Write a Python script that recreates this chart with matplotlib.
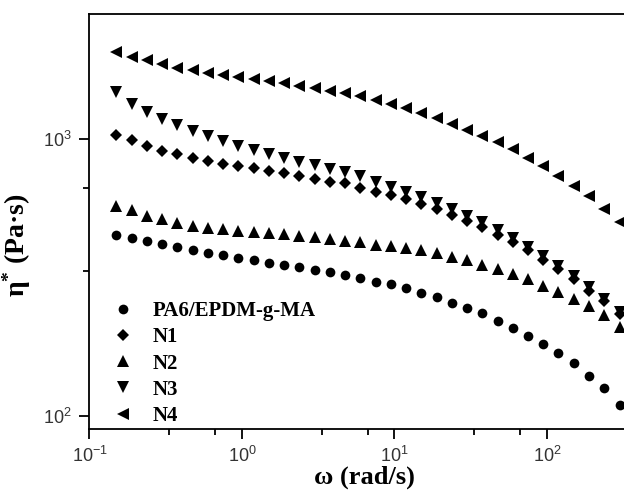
import matplotlib
matplotlib.use('Agg')
import matplotlib.pyplot as plt
from matplotlib.ticker import FixedLocator, LogLocator, NullFormatter

plt.rcParams['font.family'] = ['Liberation Sans', 'DejaVu Sans']
plt.rcParams['mathtext.fontset'] = 'custom'
plt.rcParams['mathtext.rm'] = 'Liberation Serif:bold'
plt.rcParams['mathtext.bf'] = 'Liberation Serif:bold'
plt.rcParams['mathtext.it'] = 'Liberation Serif:bold'

# angular frequency (rad/s), same sweep for every sample
omega = [0.15, 0.189, 0.238, 0.299, 0.377, 0.474, 0.597, 0.752, 0.946, 1.19,
         1.5, 1.89, 2.38, 2.99, 3.77, 4.74, 5.97, 7.52, 9.46, 11.9,
         15.0, 18.9, 23.8, 29.9, 37.7, 47.4, 59.7, 75.2, 94.6, 119,
         150, 189, 238, 299]

# complex viscosity (Pa.s)
pa6 = [452, 438, 428, 418, 407, 396, 387, 380, 372, 365,
       358, 352, 345, 337, 330, 322, 315, 306, 299, 290,
       279, 269, 257, 246, 235, 221, 208, 195, 182, 169,
       155, 140, 126, 110]
n1 = [1036, 989, 941, 903, 879, 855, 832, 814, 798, 783,
      766, 751, 735, 719, 701, 692, 667, 644, 626, 606,
      581, 558, 531, 507, 480, 452, 424, 396, 367, 340,
      313, 284, 260, 233]
n2 = [574, 553, 528, 514, 497, 486, 478, 472, 467, 462,
      458, 453, 448, 443, 437, 430, 424, 415, 410, 403,
      396, 387, 375, 366, 352, 340, 326, 313, 296, 280,
      265, 249, 231, 210]
n3 = [1470, 1339, 1246, 1180, 1119, 1068, 1022, 981, 944, 911,
      881, 852, 827, 802, 781, 760, 735, 699, 673, 644,
      618, 586, 558, 528, 500, 469, 438, 407, 377, 348,
      320, 292, 265, 238]
n4 = [2051, 1977, 1920, 1857, 1806, 1767, 1734, 1702, 1673, 1641,
      1614, 1588, 1557, 1528, 1494, 1462, 1422, 1376, 1339, 1291,
      1239, 1189, 1135, 1080, 1028, 973, 916, 855, 798, 735,
      677, 623, 561, 503]

series = [
    ('PA6/EPDM-g-MA', pa6, 'o', 7.0),
    ('N1', n1, 'D', 6.2),
    ('N2', n2, '^', 8.0),
    ('N3', n3, 'v', 8.0),
    ('N4', n4, '<', 8.0),
]

fig = plt.figure(figsize=(6.24, 4.94), dpi=100)
# axes run past the right edge, the reference is cropped there
ax = fig.add_axes([0.1434, 0.1316, 0.8798, 0.8401])

for label, vals, marker, ms in series:
    ax.plot(omega, vals, linestyle='none', marker=marker, markersize=ms,
            color='black', markeredgewidth=0, label=label)

ax.set_xscale('log')
ax.set_yscale('log')
ax.set_xlim(0.1, 398.1)
ax.set_ylim(90, 2820)

ax.xaxis.set_major_locator(LogLocator(base=10, numticks=10))
ax.yaxis.set_major_locator(LogLocator(base=10, numticks=10))
ax.xaxis.set_minor_locator(FixedLocator([0.333, 0.667, 3.33, 6.67, 33.3, 66.7]))
ax.yaxis.set_minor_locator(FixedLocator([333, 667]))
ax.xaxis.set_minor_formatter(NullFormatter())
ax.yaxis.set_minor_formatter(NullFormatter())

for s in ax.spines.values():
    s.set_linewidth(1.3)
ax.spines['right'].set_visible(False)

ax.tick_params(which='major', direction='out', length=7, width=1.3,
               labelsize=13, labelcolor='#333333')
ax.tick_params(axis='x', which='major', pad=5)
ax.tick_params(axis='y', which='major', pad=6)
ax.tick_params(which='minor', direction='out', length=4, width=1.3)

ax.set_xlabel('ω (rad/s)', fontsize=19, fontweight='bold',
              family='Liberation Serif', labelpad=0)
ax.set_ylabel(r'$\mathrm{\eta}^{*}$ (Pa·s)', fontsize=20, fontweight='bold',
              family='Liberation Serif')
ax.yaxis.set_label_coords(-0.103, 0.443)

leg = ax.legend(loc='lower left', bbox_to_anchor=(0.012, -0.028), frameon=False,
                prop={'family': 'Liberation Serif', 'weight': 'bold', 'size': 15},
                handlelength=1.2, handletextpad=0.8, labelspacing=0.3,
                borderaxespad=0.3)

fig.savefig('out.png', dpi=100, facecolor='white')
